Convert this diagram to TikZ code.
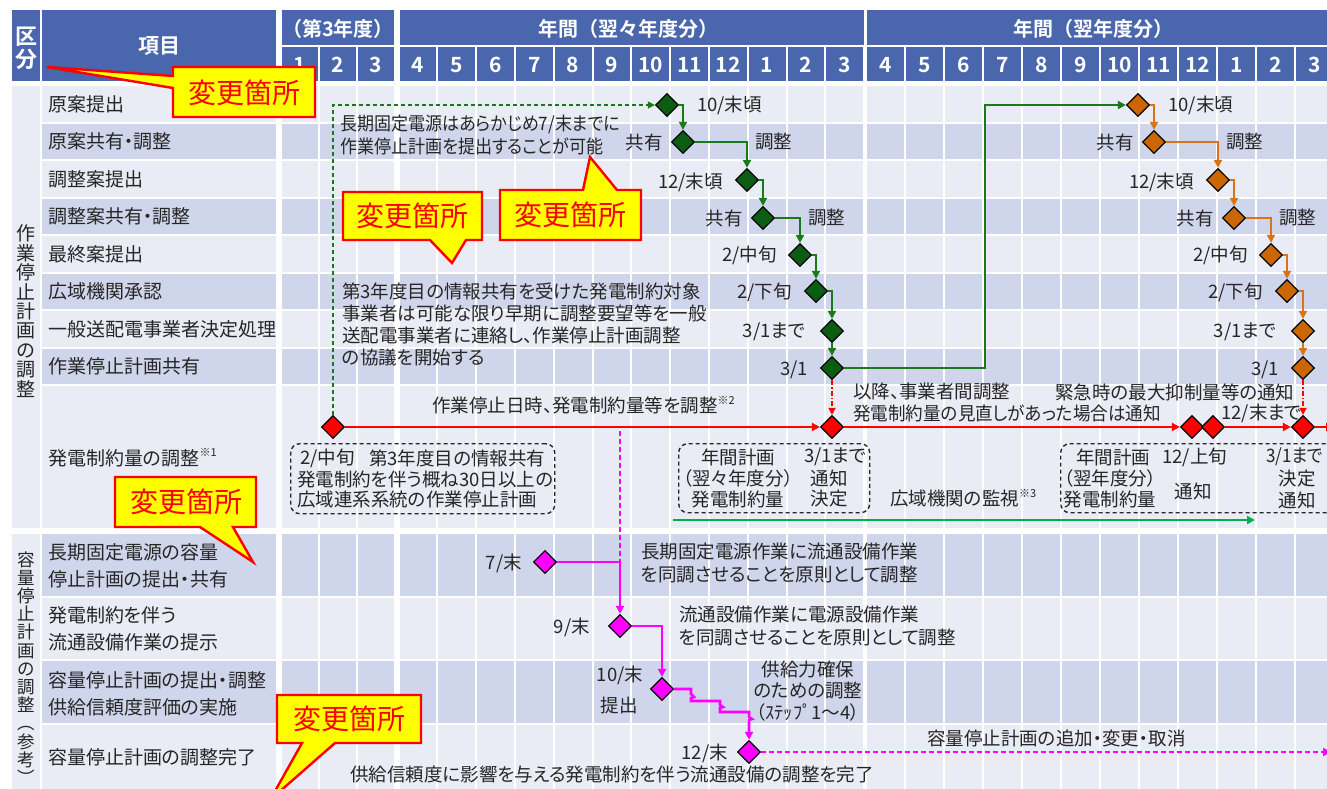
\documentclass[tikz,border=0pt]{standalone}
\usepackage{graphicx}
\usepackage{fontspec}
\setmainfont{Noto Sans CJK JP}[RawFeature=+palt,BoldFont={Noto Sans CJK JP Bold}]
\newfontfamily\hfont{Noto Sans CJK JP}[BoldFont={Noto Sans CJK JP Bold}]
\usetikzlibrary{shapes.geometric,arrows.meta}
\definecolor{hdr}{HTML}{4A66AC}
\definecolor{rowL}{HTML}{E9EBF5}
\definecolor{rowD}{HTML}{CFD5EA}
\definecolor{txtc}{HTML}{262626}
\definecolor{gfill}{HTML}{0B5D12}
\definecolor{gline}{HTML}{1A7A1A}
\definecolor{ofill}{HTML}{CC6600}
\definecolor{oline}{HTML}{D9731A}
\definecolor{mag}{HTML}{FF00FF}
\definecolor{mon}{HTML}{00B050}
\definecolor{callred}{HTML}{FF0000}
\definecolor{callyel}{HTML}{FFFF00}
\newcommand{\kome}[1]{\raisebox{0.45em}{\fontsize{11}{11}\selectfont ※#1}}
\begin{document}
\begin{tikzpicture}[x=1pt,y=-1pt,
  tx/.style={inner sep=0, text=txtc, font=\fontsize{18.5}{22}\selectfont},
  lbl/.style={inner sep=0, text=txtc, font=\fontsize{19}{27}\selectfont},
  hd/.style={inner sep=0, text=white, font=\hfont\bfseries\fontsize{20}{24}\selectfont},
  mnum/.style={inner sep=0, text=white, font=\hfont\bfseries\fontsize{21}{24}\selectfont},
  dia/.style={diamond, draw=black, line width=1.3, minimum width=23, minimum height=23, inner sep=0},
  gdia/.style={dia, fill=gfill}, odia/.style={dia, fill=ofill},
  rdia/.style={dia, fill=red}, mdia/.style={dia, fill=mag},
  myarrow/.style={-{Triangle[length=8pt,width=8pt]}},
  gcon/.style={draw=gline, line width=2.7, myarrow},
  ocon/.style={draw=oline, line width=2.7, myarrow},
  rcon/.style={draw=red, line width=2.7, myarrow},
  mcon/.style={draw=mag, line width=2.6, myarrow},
  moncon/.style={draw=mon, line width=2.8, myarrow},
  gdash/.style={draw=gline, line width=1.4, dash pattern=on 4pt off 3pt, -{Triangle[length=7pt,width=7pt]}},
  rdash/.style={draw=red, line width=1.6, dash pattern=on 5pt off 2pt on 1.5pt off 2pt, -{Triangle[length=7pt,width=7pt]}},
  mdash/.style={draw=mag, line width=1.9, dash pattern=on 5pt off 3pt},
  dbox/.style={draw=black!85, line width=1.4, dash pattern=on 4pt off 3pt, rounded corners=9pt, inner sep=0, anchor=north west},
  callbox/.style={draw=callred, fill=callyel, line width=2.4, line join=miter},
  calltxt/.style={inner sep=0, text=callred, font=\fontsize{28}{30}\selectfont}
]
\useasboundingbox (0,0) rectangle (1327,788);
\clip (0,0) rectangle (1327,788);
% ---------- grid ----------
\fill[rowL] (12,86) rectangle (40,528);
\fill[rowL] (12,534) rectangle (40,790);
\foreach \t/\h/\s in {86/35.5/L,123.5/35.5/D,161/35.5/L,198.5/35.5/D,236/35.5/L,273.5/35.5/D,311/35.5/L,348.5/35.5/D,386/142/L,534/61.5/D,597.5/61.5/L,661/61.5/D,724.5/70/L} {
  \fill[row\s] (42,\t) rectangle ++(234,\h);
  \foreach \k in {0,1,2} \fill[row\s] (282+38*\k,\t) rectangle ++(36,\h);
  \foreach \k in {0,...,11} \fill[row\s] (399.5+38.8*\k,\t) rectangle ++(36.8,\h);
  \foreach \k in {0,...,11} \fill[row\s] (867+39*\k,\t) rectangle ++(37,\h);
}
% ---------- header ----------
\fill[hdr] (12,10) rectangle (40,81);
\fill[hdr] (42,10) rectangle (276,81);
\fill[hdr] (282,10) rectangle (394,45);
\fill[hdr] (399.5,10) rectangle (863.5,45);
\fill[hdr] (867,10) rectangle (1330,45);
\foreach \m [count=\k from 0] in {1,2,3} {
  \fill[hdr] (282+38*\k,47) rectangle ++(36,34);
  \node[mnum] (mA\k) at (300+38*\k,65) {\m};
}
\foreach \m [count=\k from 0] in {4,5,6,7,8,9,10,11,12,1,2,3} {
  \fill[hdr] (399.5+38.8*\k,47) rectangle ++(36.8,34);
  \node[mnum] (mB\k) at (417.9+38.8*\k,65) {\m};
  \fill[hdr] (867+39*\k,47) rectangle ++(37,34);
  \node[mnum] (mC\k) at (885.5+39*\k,65) {\m};
}
\node[hd,font=\hfont\bfseries\fontsize{22}{23}\selectfont,align=center] (hkubun) at (26,48) {区\\分};
\node[mnum] (hkoumoku) at (159,46) {項目};
\node[hd] (h3) at (338,29) {（第3年度）};
\node[hd] (h2) at (628,29) {年間（翌々年度分）};
\node[hd] (h1) at (1093,29) {年間（翌年度分）};
% ---------- section labels ----------
\node[lbl,align=center,font=\fontsize{19}{19.4}\selectfont] (sec1) at (26,311) {作\\業\\停\\止\\計\\画\\の\\調\\整};
\node[lbl,align=center,font=\fontsize{17.5}{18.2}\selectfont] (sec2) at (26,668) {容\\量\\停\\止\\計\\画\\の\\調\\整\\︵\\参\\考\\︶};
% ---------- row labels ----------
\node[lbl,anchor=west] (rl1) at (48,104) {原案提出};
\node[lbl,anchor=west] (rl2) at (48,141) {原案共有・調整};
\node[lbl,anchor=west] (rl3) at (48,179) {調整案提出};
\node[lbl,anchor=west] (rl4) at (48,216) {調整案共有・調整};
\node[lbl,anchor=west] (rl5) at (48,254) {最終案提出};
\node[lbl,anchor=west] (rl6) at (48,291) {広域機関承認};
\node[lbl,anchor=west] (rl7) at (48,329) {一般送配電事業者決定処理};
\node[lbl,anchor=west] (rl8) at (48,366) {作業停止計画共有};
\node[lbl,anchor=west] (rl9) at (48,458) {発電制約量の調整\kome{1}};
\node[lbl,anchor=west,align=left] (rl10) at (48,566) {長期固定電源の容量\\停止計画の提出・共有};
\node[lbl,anchor=west,align=left] (rl11) at (48,629) {発電制約を伴う\\流通設備作業の提示};
\node[lbl,anchor=west,align=left] (rl12) at (48,694) {容量停止計画の提出・調整\\供給信頼度評価の実施};
\node[lbl,anchor=west] (rl13) at (48,757) {容量停止計画の調整完了};
% ---------- dashed boxes ----------
\node[dbox,minimum width=264,minimum height=70] (boxA) at (290,443) {};
\node[dbox,minimum width=191,minimum height=69] (boxB) at (678,443) {};
\node[dbox,minimum width=274,minimum height=69] (boxC) at (1060,443) {};
% ---------- green & orange chains ----------
\foreach \p/\dx in {g/0,o/471} {
  \node[\p dia] (\p1) at (667+\dx,105) {};
  \node[\p dia] (\p2) at (683+\dx,142) {};
  \node[\p dia] (\p3) at (747+\dx,180) {};
  \node[\p dia] (\p4) at (763+\dx,218) {};
  \node[\p dia] (\p5) at (800+\dx,255) {};
  \node[\p dia] (\p6) at (816+\dx,291) {};
  \node[\p dia] (\p7) at (832+\dx,331) {};
  \node[\p dia] (\p8) at (832+\dx,368) {};
  \draw[\p con] (\p1.east) -| (\p2.north);
  \draw[\p con] (\p2.east) -| (\p3.north);
  \draw[\p con] (\p3.east) -| (\p4.north);
  \draw[\p con] (\p4.east) -| (\p5.north);
  \draw[\p con] (\p5.east) -| (\p6.north);
  \draw[\p con] (\p6.east) -| (\p7.north);
  \draw[\p con] (\p7.south) -- (\p8.north);
  \node[tx,anchor=west] (\p l1) at (697+\dx,105) {10/末頃};
  \node[tx,anchor=east] (\p l2) at (663+\dx,142) {共有};
  \node[tx,anchor=west] (\p l3) at (755+\dx,142) {調整};
  \node[tx,anchor=east] (\p l4) at (723+\dx,182) {12/末頃};
  \node[tx,anchor=east] (\p l5) at (743+\dx,218) {共有};
  \node[tx,anchor=west] (\p l6) at (808+\dx,218) {調整};
  \node[tx,anchor=east] (\p l7) at (777+\dx,255) {2/中旬};
  \node[tx,anchor=east] (\p l8) at (792+\dx,292) {2/下旬};
  \node[tx,anchor=east] (\p l9) at (805+\dx,332) {3/1まで};
  \node[tx,anchor=east] (\p l10) at (808+\dx,370) {3/1};
}
\coordinate (gturn) at (985,105);
\draw[gcon] (g8.east) -| (gturn) -- (o1.west);
% ---------- red row ----------
\node[rdia] (r1) at (333,427) {};
\node[rdia] (r2) at (832,427) {};
\node[rdia] (r3) at (1192,427) {};
\node[rdia] (r4) at (1213,427) {};
\node[rdia] (r5) at (1303,427) {};
\coordinate (rend) at (1334,427);
\draw[gdash] (r1.north) |- (g1.west);
\draw[rcon] (r1.east) -- (r2.west);
\draw[rcon] (r2.east) -- (r3.west);
\draw[rcon] (r4.east) -- (r5.west);
\draw[rcon] (r5.east) -- (rend);
\draw[rdash] (g8.south) -- (r2.north);
\draw[rdash] (o8.south) -- (r5.north);
\node[tx,anchor=west] (rt1) at (432,405) {作業停止日時、発電制約量等を調整\kome{2}};
\node[tx,anchor=west] (rt2) at (853,392) {以降、事業者間調整};
\node[tx,anchor=west] (rt3) at (853,413) {\scalebox{0.95}[1]{発電制約量の見直しがあった場合は通知}};
\node[tx,anchor=west] (rt4) at (1055,392) {緊急時の最大抑制量等の通知};
\node[tx,anchor=west] (rt5) at (1221,413) {12/末まで};
% box texts
\node[tx,anchor=west] (a1) at (300,458) {2/中旬};
\node[tx,anchor=west] (a2) at (369,458) {第3年度目の情報共有};
\node[tx,anchor=west] (a3) at (297,479) {発電制約を伴う概ね30日以上の};
\node[tx,anchor=west] (a4) at (297,499) {広域連系系統の作業停止計画};
\node[tx] (b1) at (738,457) {年間計画};
\node[tx] (b2) at (738,478) {（翌々年度分）};
\node[tx] (b3) at (738,499) {発電制約量};
\node[tx] (b4) at (835,457) {3/1まで};
\node[tx] (b5) at (829,478) {通知};
\node[tx] (b6) at (829,499) {決定};
\node[tx] (c1) at (1113,457) {年間計画};
\node[tx] (c2) at (1110,478) {（翌年度分）};
\node[tx] (c3) at (1110,499) {発電制約量};
\node[tx,anchor=west] (c4) at (1162,457) {12/上旬};
\node[tx] (c5) at (1193,491) {通知};
\node[tx,anchor=west] (c6) at (1266,457) {\scalebox{0.92}[1]{3/1まで}};
\node[tx] (c7) at (1297,479) {決定};
\node[tx] (c8) at (1297,500) {通知};
% monitoring
\coordinate (mon1) at (673,520);
\coordinate (mon2) at (1255,520);
\draw[moncon] (mon1) -- (mon2);
\node[tx,anchor=west] (montx) at (890,498) {広域機関の監視\kome{3}};
% notes
\node[tx,anchor=west] (n1a) at (340,124) {\scalebox{0.92}[1]{長期固定電源はあらかじめ7/末までに}};
\node[tx,anchor=west] (n1b) at (340,146) {\scalebox{0.92}[1]{作業停止計画を提出することが可能}};
\node[tx,anchor=west,align=left] (n2) at (342,324) {第3年度目の情報共有を受けた発電制約対象\\事業者は可能な限り早期に調整要望等を一般\\送配電事業者に連絡し、作業停止計画調整\\の協議を開始する};
% ---------- magenta chain ----------
\node[mdia] (m1) at (545,562) {};
\node[mdia] (m2) at (620,626) {};
\node[mdia] (m3) at (662,689) {};
\node[mdia] (m4) at (749,752) {};
\coordinate (mtop) at (620,431);
\coordinate (mend) at (1331,752);
\draw[mdash] (mtop) -- (mtop |- m1);
\draw[mcon] (m1.east) -| (m2.north);
\draw[mcon] (m2.east) -| (m3.north);
\draw[mcon] (m3.east) -- (691,689) -- (691,694) -- (694,697) -- (691,698) -- (691,701) -- (720,701) -- (720,705) -- (723,707) -- (720,708) -- (720,712) -- (749,712) -- (749,717) -- (752,719) -- (749,720) -- (m4.north);
\draw[mdash,myarrow] (m4.east) -- (mend);
\node[tx,anchor=east] (ml1) at (522,563) {7/末};
\node[tx,anchor=east] (ml2) at (590,627) {9/末};
\node[tx] (ml3) at (620,675) {10/末};
\node[tx] (ml4) at (619,705) {提出};
\node[tx,anchor=east] (ml5) at (728,753) {12/末};
\node[tx,anchor=west,align=left,font=\fontsize{18.5}{23}\selectfont] (n3) at (641,563) {長期固定電源作業に流通設備作業\\を同調させることを原則として調整};
\node[tx,anchor=west,align=left,font=\fontsize{18.5}{23}\selectfont] (n4) at (679,626) {流通設備作業に電源設備作業\\を同調させることを原則として調整};
\node[tx,align=center,font=\fontsize{18.5}{21.5}\selectfont] (n5) at (808,691) {供給力確保\\のための調整\\（ｽﾃｯﾌﾟ1～4）};
\node[tx,anchor=west] (n6) at (927,738) {容量停止計画の追加・変更・取消};
\node[tx,anchor=west] (n7) at (350,774) {供給信頼度に影響を与える発電制約を伴う流通設備の調整を完了};
% ---------- callouts ----------
\draw[callbox] (173,67) -- (315,67) -- (315,117) -- (173,117) -- (173,88) -- (47,67) -- (173,76) -- cycle;
\node[calltxt] (cA) at (244,93) {変更箇所};
\draw[callbox] (343,192) -- (482,192) -- (482,240) -- (466,240) -- (452,263) -- (430,240) -- (343,240) -- cycle;
\node[calltxt] (cB) at (412,216) {変更箇所};
\draw[callbox] (500,190) -- (583,190) -- (590,157) -- (617,190) -- (641,190) -- (641,240) -- (500,240) -- cycle;
\node[calltxt] (cC) at (570,215) {変更箇所};
\draw[callbox] (115,477) -- (256,477) -- (256,527) -- (233,527) -- (253,562) -- (200,527) -- (115,527) -- cycle;
\node[calltxt] (cD) at (186,502) {変更箇所};
\draw[callbox] (277,695) -- (421,695) -- (421,743) -- (335,743) -- (270,800) -- (302,743) -- (277,743) -- cycle;
\node[calltxt] (cE) at (349,719) {変更箇所};
\end{tikzpicture}
\end{document}
